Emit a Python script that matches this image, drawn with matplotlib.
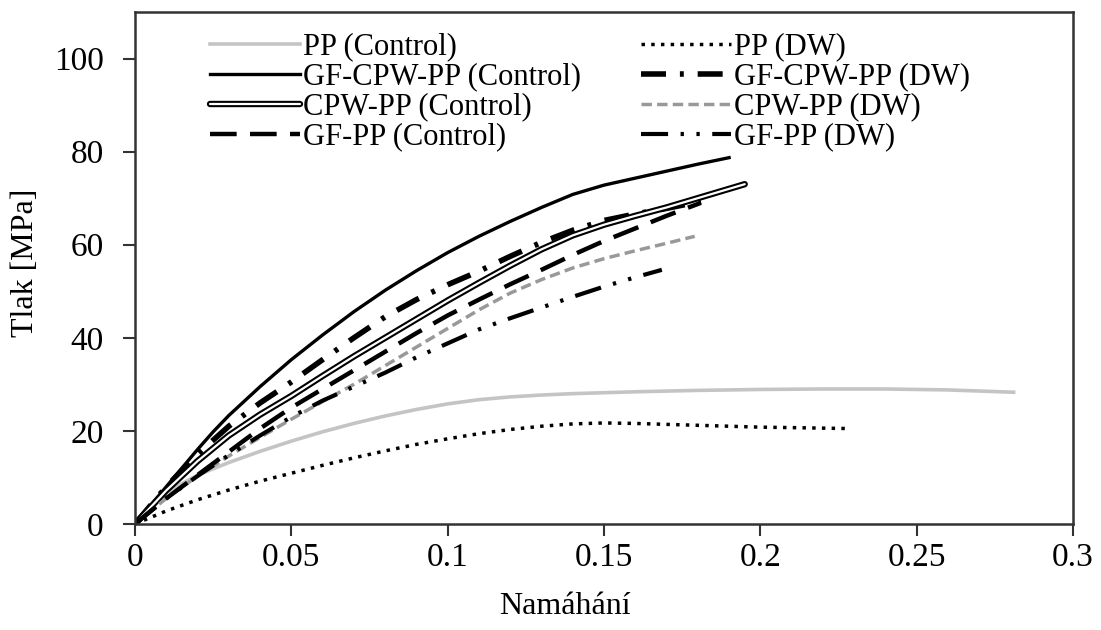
import numpy as np
import matplotlib.pyplot as plt
from matplotlib.legend_handler import HandlerTuple

plt.rcParams['font.family'] = ['Liberation Serif', 'DejaVu Serif']

# odečtené hodnoty (namáhání, tlak [MPa])
pp_ctrl_x = [0, 0.005, 0.01, 0.02, 0.03, 0.04, 0.05, 0.06, 0.07, 0.08, 0.09, 0.1, 0.11, 0.12,
             0.13, 0.14, 0.16, 0.18, 0.2, 0.22, 0.24, 0.26, 0.281]
pp_ctrl_y = [0, 4, 6.8, 10.5, 13.2, 15.6, 17.8, 19.8, 21.6, 23.2, 24.6, 25.8, 26.7, 27.3,
             27.7, 28, 28.4, 28.7, 28.9, 29, 29, 28.8, 28.3]

pp_dw_x = [0, 0.01, 0.02, 0.03, 0.04, 0.05, 0.06, 0.07, 0.08, 0.09, 0.1, 0.11, 0.12, 0.13,
           0.14, 0.15, 0.16, 0.17, 0.18, 0.19, 0.2, 0.21, 0.228]
pp_dw_y = [0, 2.8, 5.2, 7.3, 9.2, 10.9, 12.6, 14.2, 15.7, 17.1, 18.3, 19.4, 20.3, 21,
           21.5, 21.7, 21.6, 21.4, 21.2, 21, 20.8, 20.7, 20.5]

gfcpw_ctrl_x = [0, 0.005, 0.01, 0.015, 0.02, 0.025, 0.03, 0.04, 0.05, 0.06, 0.07, 0.08, 0.09,
                0.1, 0.11, 0.12, 0.13, 0.14, 0.15, 0.16, 0.17, 0.18, 0.19]
gfcpw_ctrl_y = [0, 4, 8, 12, 16, 19.8, 23.3, 29.5, 35.3, 40.6, 45.6, 50.2, 54.4,
                58.3, 61.8, 65, 68, 70.8, 72.8, 74.3, 75.8, 77.3, 78.7]

gfcpw_dw_x = [0, 0.01, 0.02, 0.03, 0.04, 0.05, 0.06, 0.07, 0.08, 0.09, 0.1, 0.11, 0.12, 0.13,
              0.14, 0.15, 0.16, 0.17, 0.181]
gfcpw_dw_y = [0, 8, 15, 21, 26, 30.5, 35.3, 40, 44.5, 48.2, 51.4, 54.3, 57.5, 60.5,
              63.1, 65.2, 66.6, 67.8, 69.3]

cpw_ctrl_x = [0, 0.005, 0.01, 0.02, 0.03, 0.04, 0.05, 0.06, 0.07, 0.08, 0.09, 0.1, 0.11, 0.12,
              0.13, 0.14, 0.15, 0.16, 0.17, 0.18, 0.19, 0.195]
cpw_ctrl_y = [0, 3.6, 7.2, 13.5, 19, 23.5, 27.5, 31.8, 36, 40, 44, 48, 51.8, 55.5,
              59, 62, 64.3, 66.2, 68, 70, 72, 73]

cpw_dw_x = [0, 0.01, 0.02, 0.03, 0.04, 0.05, 0.06, 0.07, 0.08, 0.09, 0.1, 0.11, 0.12, 0.13,
            0.14, 0.15, 0.16, 0.17, 0.179]
cpw_dw_y = [0, 5.5, 10.3, 14.6, 18.6, 22.5, 26.3, 30, 34, 38, 42, 46, 49.6, 52.5,
            55, 57, 58.7, 60.3, 61.8]

gf_ctrl_x = [0, 0.01, 0.02, 0.03, 0.04, 0.05, 0.06, 0.07, 0.08, 0.09, 0.1, 0.11, 0.12, 0.13,
             0.14, 0.15, 0.16, 0.17, 0.181]
gf_ctrl_y = [0, 5.5, 10.5, 15.5, 20.5, 25, 29, 33, 37, 41, 44.8, 48.2, 51.5, 54.6,
             57.8, 60.8, 63.5, 66.2, 69]

gf_dw_x = [0, 0.01, 0.02, 0.03, 0.04, 0.05, 0.06, 0.07, 0.08, 0.09, 0.1, 0.11, 0.12, 0.13,
           0.14, 0.15, 0.16, 0.1685]
gf_dw_y = [0, 5.5, 10.3, 14.8, 19, 23, 26.5, 29.5, 32.5, 35.8, 38.8, 41.8, 44.2, 46.5,
           48.8, 51, 53, 54.6]

fig = plt.figure(figsize=(11.01, 6.3), dpi=100)
ax = fig.add_axes([0.1226, 0.1683, 0.852, 0.8127])

l_pp, = ax.plot(pp_ctrl_x, pp_ctrl_y, color='#c4c4c4', lw=2.6)
l_ppdw, = ax.plot(pp_dw_x, pp_dw_y, color='black', lw=2.5, ls=(0, (1, 1.8)))
l_gfcpw, = ax.plot(gfcpw_ctrl_x, gfcpw_ctrl_y, color='black', lw=2.4)
l_gfcpwdw, = ax.plot(gfcpw_dw_x, gfcpw_dw_y, color='black', lw=4.0, ls=(0, (4.5, 2.5, 0.7, 2.5)))
l_cpw_o, = ax.plot(cpw_ctrl_x, cpw_ctrl_y, color='black', lw=4.6, solid_capstyle='round')
l_cpw_i, = ax.plot(cpw_ctrl_x, cpw_ctrl_y, color='white', lw=1.6, solid_capstyle='round')
l_cpwdw, = ax.plot(cpw_dw_x, cpw_dw_y, color='#999999', lw=2.5, ls=(0, (3, 1.5)))
l_gf, = ax.plot(gf_ctrl_x, gf_ctrl_y, color='black', lw=3.2, ls=(0, (6, 3)))
l_gfdw, = ax.plot(gf_dw_x, gf_dw_y, color='black', lw=3.0, ls=(0, (6.5, 3, 0.8, 3, 0.8, 3)))

handles = [l_pp, l_gfcpw, (l_cpw_o, l_cpw_i), l_gf, l_ppdw, l_gfcpwdw, l_cpwdw, l_gfdw]
labels = ['PP (Control)', 'GF-CPW-PP (Control)', 'CPW-PP (Control)', 'GF-PP (Control)',
          'PP (DW)', 'GF-CPW-PP (DW)', 'CPW-PP (DW)', 'GF-PP (DW)']
ax.legend(handles, labels, ncol=2, loc='upper left', bbox_to_anchor=(0.08, 0.96),
          frameon=False, fontsize=22, handlelength=2.95, handletextpad=0.1,
          labelspacing=0.03, columnspacing=1.95, borderpad=0, borderaxespad=0,
          handler_map={tuple: HandlerTuple(ndivide=1, pad=0)})

ax.set_xlim(0, 0.3)
ax.set_ylim(0, 110)
ax.set_xticks([0, 0.05, 0.1, 0.15, 0.2, 0.25, 0.3])
ax.set_xticklabels(['0', '0.05', '0.1', '0.15', '0.2', '0.25', '0.3'])
ax.set_yticks([0, 20, 40, 60, 80, 100])
ax.tick_params(direction='out', length=8.5, width=1.5, labelsize=24, color='#333333')
ax.tick_params(axis='x', pad=5)
ax.tick_params(axis='y', pad=14)
for s in ax.spines.values():
    s.set_linewidth(1.8)
    s.set_color('#333333')

ax.set_xlabel('Namáhání', fontsize=23)
ax.set_ylabel('Tlak [MPa]', fontsize=23)
ax.xaxis.set_label_coords(0.458, -0.133)
ax.yaxis.set_label_coords(-0.101, 0.51)

fig.savefig('out.png', dpi=100)
